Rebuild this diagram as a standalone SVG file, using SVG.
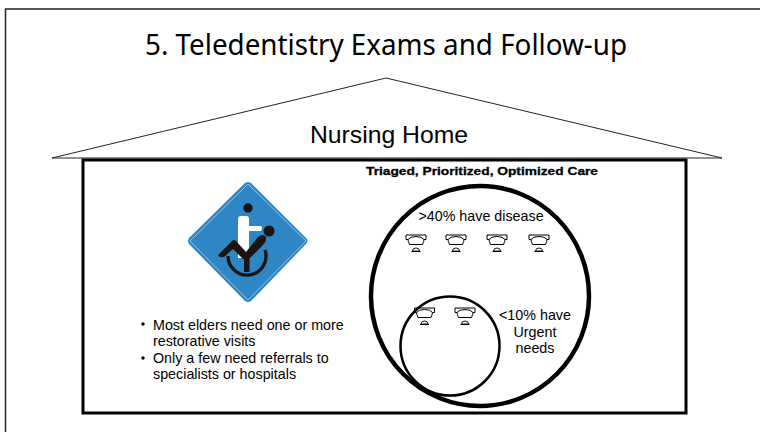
<svg xmlns="http://www.w3.org/2000/svg" width="760" height="432" viewBox="0 0 760 432">
<style>
.t{font-family:"Liberation Sans",Arial,sans-serif;fill:#000}
.title{font-family:"Noto Sans","DejaVu Sans",sans-serif;fill:#000}
.s{font-size:14.300px}
.ln{fill:none;stroke:#000}
</style>
<defs>
<g id="ph" fill="none" stroke="#000">
<path d="M-10 -5H10V-0.500H8Q6 -3.500 0 -3.500Q-6 -3.500 -8 -0.500H-10Z" stroke-width="1"/>
<path d="M-8 -0.500Q-8 1 -6.500 4.500H6.500Q8 1 8 -0.500" stroke-width="1"/>
<path d="M-3.500 11Q-3.500 8 0 8Q3.500 8 3.500 11Z" stroke-width="0.900"/>
<path d="M-4.500 11.500H4.500" stroke-width="1"/>
</g>
</defs>
<rect width="760" height="432" fill="#fff"/>
<path d="M760 9H5.500V432" fill="none" stroke="#222" stroke-width="1.500"/>
<text class="title" x="386" y="55" font-size="29" text-anchor="middle" textLength="482" lengthAdjust="spacingAndGlyphs">5. Teledentistry Exams and Follow-up</text>
<g id="house">
<path d="M52 158L386 78L722 158Z" fill="#fff" stroke="#222" stroke-width="1"/>
<text class="t" x="389" y="143" font-size="24" text-anchor="middle" textLength="158" lengthAdjust="spacingAndGlyphs">Nursing Home</text>
<rect x="83" y="160" width="603" height="253" fill="#fff" stroke="#000" stroke-width="3"/>
</g>
<g id="sign">
<path d="M245 183Q248 181 251 183L306 238Q309 241 306 244L251 301Q248 303 245 301L189 244Q187 241 189 238Z" fill="#2f86c5"/>
<path d="M248 184L306 241L248 300L190 241Z" fill="none" stroke="#a8d0ea" stroke-width="0.800"/>
<circle cx="248" cy="208" r="4.700" fill="#1c1410"/>
<path d="M238 219Q238 216 241 216H246Q249 216 249 219V226H261Q263 228 261 231H249V258H238Z" fill="#fff"/>
<circle cx="269" cy="231" r="5.500" fill="#1c1410"/>
<path d="M218 255L232 241Q234 239 236 241L246 252L258 237Q263 233 266 237Q267 241 263 245L250 258Q246 261 242 258L233 249L224 257Q219 258 218 255Z" fill="#1c1410"/>
<path d="M244 258H249.500V272H244Z" fill="#1c1410"/>
<path d="M228 256A19 19 0 1 0 265 250" fill="none" stroke="#1c1410" stroke-width="3.300"/>
</g>
<g id="bullets">
<circle cx="143" cy="324" r="1.700"/><circle cx="143" cy="358" r="1.700"/>
<text class="t s" x="153" y="330">Most elders need one or more</text>
<text class="t s" x="153" y="346">restorative visits</text>
<text class="t s" x="153" y="363">Only a few need referrals to</text>
<text class="t s" x="153" y="379">specialists or hospitals</text>
</g>
<g id="care">
<text class="t" x="482" y="175" font-size="11.500" font-weight="bold" stroke="#000" stroke-width="0.300" text-anchor="middle" textLength="232" lengthAdjust="spacingAndGlyphs">Triaged, Prioritized, Optimized Care</text>
<ellipse class="ln" cx="480" cy="296" rx="109" ry="110" stroke-width="4.500"/>
<text class="t s" x="481" y="221" text-anchor="middle">&gt;40% have disease</text>
<use href="#ph" x="416" y="240"/><use href="#ph" x="456" y="240"/><use href="#ph" x="497" y="240"/><use href="#ph" x="539" y="240"/>
<circle class="ln" cx="450" cy="346" r="49.500" stroke-width="2.500"/>
<use href="#ph" x="424.500" y="313"/><use href="#ph" x="465" y="313"/>
<g class="t s" text-anchor="middle"><text x="535" y="320">&lt;10% have</text><text x="535" y="337">Urgent</text><text x="535" y="353">needs</text></g>
</g>
</svg>
